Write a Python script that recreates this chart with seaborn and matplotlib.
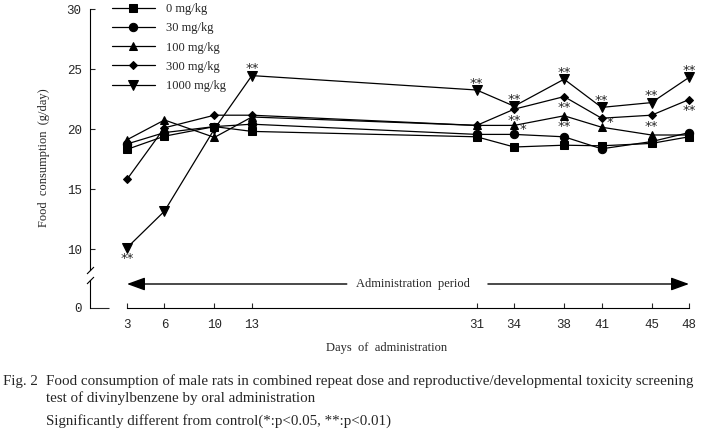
import numpy as np
import pandas as pd
import seaborn as sns
import matplotlib.pyplot as plt

# data
days = [3, 6, 10, 13, 31, 34, 38, 41, 45, 48]
dose_labels = ['0 mg/kg', '30 mg/kg', '100 mg/kg', '300 mg/kg', '1000 mg/kg']
fc_0 = [18.3, 19.4, 20.2, 19.8, 19.35, 18.5, 18.65, 18.6, 18.8, 19.35]
fc_30 = [18.75, 19.7, 20.2, 20.4, 19.55, 19.55, 19.35, 18.35, 18.95, 19.7]
fc_100 = [19.1, 20.75, 19.3, 21.0, 20.3, 20.3, 21.1, 20.15, 19.5, 19.5]
fc_300 = [15.8, 20.1, 21.15, 21.15, 20.3, 21.65, 22.7, 20.9, 21.15, 22.45]
fc_1000 = [10.1, 13.15, 20.0, 24.45, 23.25, 21.9, 24.15, 21.8, 22.2, 24.3]
series = [fc_0, fc_30, fc_100, fc_300, fc_1000]
markers = ['s', 'o', '^', 'D', 'v']
msizes = [5.5, 6, 6, 4.5, 6.5]

# significance marks (dose index, day, text, where)
sig_dose = [4, 4, 4, 4, 4, 4, 4, 4, 3, 3, 3, 3, 3, 2, 2]
sig_day = [3, 13, 31, 34, 38, 41, 45, 48, 34, 38, 41, 45, 48, 34, 38]
sig_text = ['**', '**', '**', '**', '**', '**', '**', '**',
            '**', '**', '*', '**', '**', '*', '**']
sig_pos = ['below', 'above', 'above', 'above', 'above', 'above', 'above', 'above',
           'below', 'below', 'right', 'below', 'below', 'right', 'below']

sns.set_style('white')
plt.rcParams['font.family'] = ['Liberation Serif', 'DejaVu Serif']

W, H = 715, 432
fig = plt.figure(figsize=(W / 100, H / 100), dpi=100)

def px(x0, y0, x1, y1):
    return [x0 / W, 1 - y1 / H, (x1 - x0) / W, (y1 - y0) / H]

ax = fig.add_axes(px(90, 9, 701.5, 270))
axb = fig.add_axes(px(90, 280, 701.5, 308), sharex=ax)
ax.patch.set_alpha(0)
axb.patch.set_alpha(0)

for lab, vals, m, ms in zip(dose_labels, series, markers, msizes):
    sns.lineplot(x=days, y=vals, marker=m, markersize=ms, color='black',
                 markeredgecolor='black', linewidth=0.9, label=lab, ax=ax)

ax.set_xlim(0.04, 49)
ax.set_ylim(8.25, 30)
ax.set_yticks([10, 15, 20, 25, 30])
ax.tick_params(axis='y', direction='in', length=3.6, width=0.8, pad=6,
               labelsize=9, left=True)
ax.tick_params(axis='x', bottom=False, labelbottom=False)
for lbl in ax.get_yticklabels():
    lbl.set_family('Liberation Mono')
for s in ['top', 'right', 'bottom']:
    ax.spines[s].set_visible(False)
ax.spines['left'].set_color('black')
ax.spines['left'].set_linewidth(0.8)
ax.set_xlabel('')
ax.set_ylabel('')

# significance asterisks
for d, day, t, p in zip(sig_dose, sig_day, sig_text, sig_pos):
    yv = series[d][days.index(day)]
    off = {'above': (0, 5), 'below': (0, -8), 'right': (6, -3)}[p]
    ax.annotate(t, xy=(day, yv), xytext=off, textcoords='offset points',
                ha='center', va='center', fontsize=9.5, family='DejaVu Sans',
                annotation_clip=False)

h, l = ax.get_legend_handles_labels()
ax.legend(h, l, loc='upper left', bbox_to_anchor=(112 / W, 1 - 3 / H),
          bbox_transform=fig.transFigure, frameon=False, fontsize=9,
          handlelength=3.4, handletextpad=0.95, labelspacing=0.58,
          borderpad=0, borderaxespad=0)

# bottom strip with 0 and the x axis
axb.set_ylim(0, 1)
axb.set_yticks([0])
axb.set_yticklabels(['0'], family='Liberation Mono')
axb.tick_params(axis='y', direction='in', length=13.5, width=0.8, pad=6,
                labelsize=9, left=True)
axb.set_xticks(days)
axb.set_xticklabels([str(d) for d in days], family='Liberation Mono')
axb.tick_params(axis='x', direction='in', length=3.6, width=0.8, pad=8,
                labelsize=9, bottom=True)
for s in ['top', 'right']:
    axb.spines[s].set_visible(False)
axb.spines['bottom'].set_bounds(3, 48)
for s in ['left', 'bottom']:
    axb.spines[s].set_color('black')
    axb.spines[s].set_linewidth(0.8)

# administration period arrows
ya = (308 - 284) / 28
head = '-|>,head_length=1.1,head_width=0.4'
axb.annotate('', xy=(3, ya), xytext=(20.6, ya),
             arrowprops=dict(arrowstyle=head, color='black', lw=1.0,
                             shrinkA=0, shrinkB=0))
axb.annotate('', xy=(48, ya), xytext=(31.9, ya),
             arrowprops=dict(arrowstyle=head, color='black', lw=1.0,
                             shrinkA=0, shrinkB=0))
axb.text(25.9, ya, 'Administration  period', ha='center', va='center', fontsize=9)

# axis break marks
kw = dict(marker=[(-1, -1), (1, 1)], markersize=5, linestyle='none',
          color='black', mec='black', mew=0.8, clip_on=False)
ax.plot([0], [0], transform=ax.transAxes, **kw)
axb.plot([0], [1], transform=axb.transAxes, **kw)

fig.text(387 / W, 1 - 348 / H, 'Days  of  administration', ha='center',
         va='center', fontsize=9)
fig.text(44 / W, 1 - 158 / H, 'Food  consumption  (g/day)', ha='center',
         va='center', rotation=90, fontsize=9)

cap_fs = 10.8
fig.text(3 / W, 1 - 381 / H, 'Fig. 2', ha='left', va='center', fontsize=cap_fs)
fig.text(46 / W, 1 - 381 / H, 'Food consumption of male rats in combined repeat dose '
         'and reproductive/developmental toxicity screening', ha='left',
         va='center', fontsize=cap_fs)
fig.text(46 / W, 1 - 398 / H, 'test of divinylbenzene by oral administration',
         ha='left', va='center', fontsize=cap_fs)
fig.text(46 / W, 1 - 421 / H, 'Significantly different from control(*:p<0.05, **:p<0.01)',
         ha='left', va='center', fontsize=cap_fs)

fig.savefig('out.png', dpi=100)
